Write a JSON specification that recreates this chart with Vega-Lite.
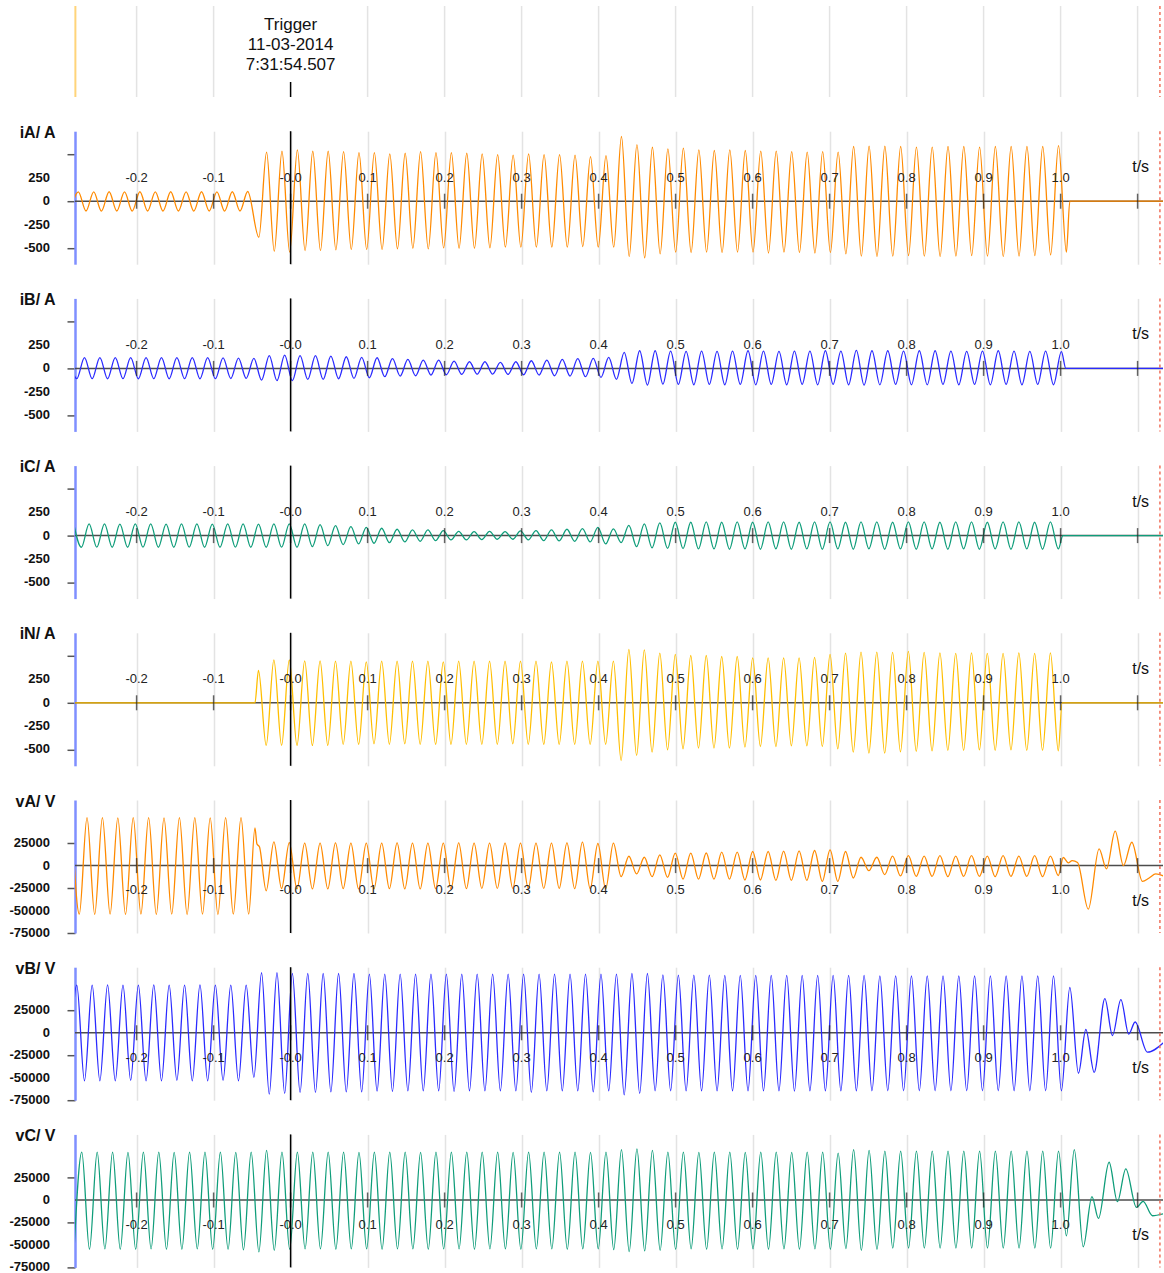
{
"$schema": "https://vega.github.io/schema/vega-lite/v6.json",
"background": "white",
"padding": {"left": 9, "top": 5, "right": 0, "bottom": 0},
"spacing": 34.2,
"bounds": "flush",
"config": {
 "view": {"stroke": null},
 "font": "Liberation Sans",
 "axisY": {"domainColor": "#7f8fff", "domainWidth": 2.5, "tickColor": "#555555", "tickSize": 8, "tickWidth": 1.5, "labels": false, "gridColor": "#e3e3e3", "gridWidth": 1.5, "titleFont": "Liberation Sans", "titleFontSize": 16, "titleFontWeight": "bold", "titleColor": "#111111", "titleAngle": 0, "titleAlign": "right", "titleBaseline": "middle", "titleX": -20, "titleY": 1},
 "axisX": {"gridColor": "#e3e3e3", "gridWidth": 1.5}
},
"datasets": {
 "ticks": [{"t":-0.2,"lab":"-0.2"},{"t":-0.1,"lab":"-0.1"},{"t":0,"lab":"-0.0"},{"t":0.1,"lab":"0.1"},{"t":0.2,"lab":"0.2"},{"t":0.3,"lab":"0.3"},{"t":0.4,"lab":"0.4"},{"t":0.5,"lab":"0.5"},{"t":0.6,"lab":"0.6"},{"t":0.7,"lab":"0.7"},{"t":0.8,"lab":"0.8"},{"t":0.9,"lab":"0.9"},{"t":1.0,"lab":"1.0"},{"t":1.1,"lab":""}],
 "ylabI": [{"v":250,"lab":"250"},{"v":0,"lab":"0"},{"v":-250,"lab":"-250"},{"v":-500,"lab":"-500"}],
 "ylabV": [{"v":25000,"lab":"25000"},{"v":0,"lab":"0"},{"v":-25000,"lab":"-25000"},{"v":-50000,"lab":"-50000"},{"v":-75000,"lab":"-75000"}],
 "iA": [{"t":-0.2857,"v":-105},{"t":-0.2757,"v":100},{"t":-0.2657,"v":-105},{"t":-0.2557,"v":100},{"t":-0.2457,"v":-106},{"t":-0.2357,"v":101},{"t":-0.2257,"v":-105},{"t":-0.2157,"v":100},{"t":-0.2057,"v":-106},{"t":-0.1957,"v":101},{"t":-0.1857,"v":-105},{"t":-0.1757,"v":100},{"t":-0.1657,"v":-106},{"t":-0.1557,"v":101},{"t":-0.1457,"v":-105},{"t":-0.1357,"v":100},{"t":-0.1257,"v":-106},{"t":-0.1157,"v":101},{"t":-0.1057,"v":-105},{"t":-0.0957,"v":100},{"t":-0.0857,"v":-106},{"t":-0.0757,"v":101},{"t":-0.0657,"v":-105},{"t":-0.0557,"v":104},
{"t":-0.0412,"v":-386},{"t":-0.0312,"v":525},{"t":-0.0212,"v":-536},{"t":-0.0112,"v":535},{"t":-0.0012,"v":-546},{"t":0.0088,"v":550},{"t":0.0188,"v":-529},{"t":0.0288,"v":535},{"t":0.0388,"v":-529},{"t":0.0488,"v":535},{"t":0.0588,"v":-521},{"t":0.0688,"v":532},{"t":0.0788,"v":-518},{"t":0.0888,"v":521},{"t":0.0988,"v":-518},{"t":0.1088,"v":521},{"t":0.1188,"v":-518},{"t":0.1288,"v":507},{"t":0.1388,"v":-511},{"t":0.1488,"v":514},{"t":0.1588,"v":-504},{"t":0.1688,"v":532},{"t":0.1788,"v":-511},{"t":0.1888,"v":521},{"t":0.1988,"v":-500},{"t":0.2088,"v":521},{"t":0.2188,"v":-504},{"t":0.2288,"v":514},{"t":0.2388,"v":-504},{"t":0.2488,"v":507},{"t":0.25885,"v":-500},{"t":0.2689,"v":500},{"t":0.27895,"v":-493},{"t":0.289,"v":493},{"t":0.29905,"v":-493},{"t":0.3091,"v":507},{"t":0.31915,"v":-493},{"t":0.3292,"v":500},{"t":0.33925,"v":-493},{"t":0.3493,"v":500},{"t":0.35935,"v":-493},{"t":0.3694,"v":493},{"t":0.37945,"v":-486},{"t":0.3895,"v":478},{"t":0.39955,"v":-493},{"t":0.4096,"v":489},{"t":0.41965,"v":-493},{"t":0.4297,"v":693},{"t":0.43975,"v":-593},{"t":0.4498,"v":607},{"t":0.45985,"v":-607},{"t":0.4699,"v":578},{"t":0.47995,"v":-564},{"t":0.49,"v":561},{"t":0.50005,"v":-546},{"t":0.5101,"v":568},{"t":0.52015,"v":-550},{"t":0.5302,"v":550},{"t":0.54025,"v":-546},{"t":0.5503,"v":543},{"t":0.56035,"v":-550},{"t":0.5704,"v":550},{"t":0.58045,"v":-546},{"t":0.5905,"v":543},{"t":0.60055,"v":-546},{"t":0.6106,"v":536},{"t":0.62065,"v":-555},{"t":0.6307,"v":536},{"t":0.64075,"v":-546},{"t":0.6508,"v":532},{"t":0.66085,"v":-550},{"t":0.6709,"v":525},{"t":0.68095,"v":-555},{"t":0.691,"v":532},{"t":0.70105,"v":-550},{"t":0.7111,"v":525},{"t":0.72115,"v":-564},{"t":0.7312,"v":586},{"t":0.74125,"v":-589},{"t":0.7513,"v":589},{"t":0.76155,"v":-593},{"t":0.7718,"v":589},{"t":0.78205,"v":-589},{"t":0.7923,"v":586},{"t":0.80255,"v":-582},{"t":0.8128,"v":579},{"t":0.82305,"v":-589},{"t":0.8333,"v":579},{"t":0.84355,"v":-593},{"t":0.8538,"v":586},{"t":0.86405,"v":-589},{"t":0.8743,"v":586},{"t":0.88455,"v":-582},{"t":0.8948,"v":579},{"t":0.90505,"v":-589},{"t":0.9153,"v":586},{"t":0.92555,"v":-593},{"t":0.9358,"v":586},{"t":0.94605,"v":-589},{"t":0.9563,"v":586},{"t":0.96655,"v":-582},{"t":0.9768,"v":586},{"t":0.98705,"v":-575},{"t":0.9973,"v":596},{"t":1.00755,"v":-546},{"t":1.012,"v":0},{"t":1.133,"v":0}],
 "iB": [{"t":-0.2877,"v":115},{"t":-0.2777,"v":-110},{"t":-0.2677,"v":116},{"t":-0.2577,"v":-110},{"t":-0.2477,"v":116},{"t":-0.2377,"v":-111},{"t":-0.2277,"v":115},{"t":-0.2177,"v":-110},{"t":-0.2077,"v":116},{"t":-0.1977,"v":-111},{"t":-0.1877,"v":115},{"t":-0.1777,"v":-110},{"t":-0.1677,"v":116},{"t":-0.1577,"v":-111},{"t":-0.1477,"v":115},{"t":-0.1377,"v":-110},{"t":-0.1277,"v":116},{"t":-0.1177,"v":-111},{"t":-0.1077,"v":115},{"t":-0.0977,"v":-110},{"t":-0.0877,"v":112},{"t":-0.0777,"v":-108},{"t":-0.0677,"v":110},{"t":-0.0577,"v":-107},{"t":-0.0477,"v":107},{"t":-0.0377,"v":-125},{"t":-0.0277,"v":136},{"t":-0.0177,"v":-132},{"t":-0.0077,"v":143},{"t":0.0023,"v":-132},{"t":0.0123,"v":136},{"t":0.0223,"v":-118},{"t":0.0323,"v":136},{"t":0.0423,"v":-118},{"t":0.0523,"v":132},{"t":0.0623,"v":-111},{"t":0.0723,"v":125},{"t":0.0823,"v":-107},{"t":0.0923,"v":118},{"t":0.1023,"v":-100},{"t":0.1123,"v":114},{"t":0.1223,"v":-89},{"t":0.1323,"v":104},{"t":0.1423,"v":-82},{"t":0.1523,"v":96},{"t":0.1623,"v":-79},{"t":0.1723,"v":89},{"t":0.1823,"v":-71},{"t":0.1923,"v":89},{"t":0.2023,"v":-68},{"t":0.2123,"v":79},{"t":0.2223,"v":-64},{"t":0.2323,"v":71},{"t":0.2423,"v":-61},{"t":0.25235,"v":71},{"t":0.2624,"v":-61},{"t":0.27245,"v":64},{"t":0.2825,"v":-64},{"t":0.29255,"v":71},{"t":0.3026,"v":-68},{"t":0.31265,"v":82},{"t":0.3227,"v":-71},{"t":0.33275,"v":89},{"t":0.3428,"v":-79},{"t":0.35285,"v":96},{"t":0.3629,"v":-82},{"t":0.37295,"v":104},{"t":0.383,"v":-89},{"t":0.39305,"v":107},{"t":0.4031,"v":-96},{"t":0.41315,"v":118},{"t":0.4232,"v":-118},{"t":0.43325,"v":171},{"t":0.4433,"v":-161},{"t":0.45335,"v":189},{"t":0.4634,"v":-179},{"t":0.47345,"v":189},{"t":0.4835,"v":-168},{"t":0.49355,"v":186},{"t":0.5036,"v":-171},{"t":0.51365,"v":182},{"t":0.5237,"v":-175},{"t":0.53375,"v":186},{"t":0.5438,"v":-171},{"t":0.55385,"v":182},{"t":0.5639,"v":-175},{"t":0.57395,"v":186},{"t":0.584,"v":-171},{"t":0.59405,"v":189},{"t":0.6041,"v":-175},{"t":0.61415,"v":186},{"t":0.6242,"v":-171},{"t":0.63425,"v":182},{"t":0.6443,"v":-175},{"t":0.65435,"v":186},{"t":0.6644,"v":-171},{"t":0.67445,"v":186},{"t":0.6845,"v":-175},{"t":0.69455,"v":189},{"t":0.7046,"v":-171},{"t":0.71465,"v":186},{"t":0.7247,"v":-175},{"t":0.73475,"v":193},{"t":0.7448,"v":-179},{"t":0.75505,"v":189},{"t":0.7653,"v":-175},{"t":0.77555,"v":189},{"t":0.7858,"v":-171},{"t":0.79605,"v":186},{"t":0.8063,"v":-175},{"t":0.81655,"v":189},{"t":0.8268,"v":-175},{"t":0.83705,"v":189},{"t":0.8473,"v":-171},{"t":0.85755,"v":186},{"t":0.8678,"v":-175},{"t":0.87805,"v":182},{"t":0.8883,"v":-171},{"t":0.89855,"v":186},{"t":0.9088,"v":-175},{"t":0.91905,"v":189},{"t":0.9293,"v":-171},{"t":0.93955,"v":186},{"t":0.9498,"v":-175},{"t":0.96005,"v":182},{"t":0.9703,"v":-171},{"t":0.98055,"v":186},{"t":0.9908,"v":-175},{"t":1.00105,"v":179},{"t":1.0068,"v":0},{"t":1.133,"v":0}],
 "iC": [{"t":-0.2817,"v":125},{"t":-0.2717,"v":-125},{"t":-0.2617,"v":125},{"t":-0.2517,"v":-124},{"t":-0.2417,"v":125},{"t":-0.2317,"v":-125},{"t":-0.2217,"v":124},{"t":-0.2117,"v":-125},{"t":-0.2017,"v":125},{"t":-0.1917,"v":-124},{"t":-0.1817,"v":125},{"t":-0.1717,"v":-125},{"t":-0.1617,"v":124},{"t":-0.1517,"v":-125},{"t":-0.1417,"v":125},{"t":-0.1317,"v":-124},{"t":-0.1217,"v":125},{"t":-0.1117,"v":-125},{"t":-0.1017,"v":124},{"t":-0.0917,"v":-125},{"t":-0.0817,"v":125},{"t":-0.0717,"v":-124},{"t":-0.0617,"v":125},{"t":-0.0517,"v":-125},{"t":-0.0417,"v":124},{"t":-0.0317,"v":-125},{"t":-0.0217,"v":125},{"t":-0.0117,"v":-124},{"t":-0.0017,"v":125},{"t":0.0083,"v":-125},{"t":0.0183,"v":125},{"t":0.0283,"v":-118},{"t":0.0383,"v":118},{"t":0.0483,"v":-107},{"t":0.0583,"v":107},{"t":0.0683,"v":-96},{"t":0.0783,"v":96},{"t":0.0883,"v":-89},{"t":0.0983,"v":89},{"t":0.1083,"v":-82},{"t":0.1183,"v":79},{"t":0.1283,"v":-75},{"t":0.1383,"v":68},{"t":0.1483,"v":-68},{"t":0.1583,"v":61},{"t":0.1683,"v":-61},{"t":0.1783,"v":61},{"t":0.1883,"v":-54},{"t":0.1983,"v":54},{"t":0.2083,"v":-46},{"t":0.2183,"v":46},{"t":0.2283,"v":-46},{"t":0.2383,"v":43},{"t":0.24835,"v":-43},{"t":0.2584,"v":46},{"t":0.26845,"v":-39},{"t":0.2785,"v":43},{"t":0.28855,"v":-39},{"t":0.2986,"v":50},{"t":0.30865,"v":-46},{"t":0.3187,"v":54},{"t":0.32875,"v":-54},{"t":0.3388,"v":61},{"t":0.34885,"v":-57},{"t":0.3589,"v":68},{"t":0.36895,"v":-61},{"t":0.379,"v":75},{"t":0.38905,"v":-68},{"t":0.3991,"v":89},{"t":0.40915,"v":-89},{"t":0.4192,"v":71},{"t":0.42925,"v":-75},{"t":0.4393,"v":110},{"t":0.44935,"v":-118},{"t":0.4594,"v":125},{"t":0.46945,"v":-132},{"t":0.4795,"v":136},{"t":0.48955,"v":-136},{"t":0.4996,"v":143},{"t":0.50965,"v":-139},{"t":0.5197,"v":143},{"t":0.52975,"v":-143},{"t":0.5398,"v":146},{"t":0.54985,"v":-143},{"t":0.5599,"v":143},{"t":0.56995,"v":-146},{"t":0.58,"v":146},{"t":0.59005,"v":-143},{"t":0.6001,"v":143},{"t":0.61015,"v":-146},{"t":0.6202,"v":146},{"t":0.63025,"v":-143},{"t":0.6403,"v":146},{"t":0.65035,"v":-146},{"t":0.6604,"v":143},{"t":0.67045,"v":-143},{"t":0.6805,"v":146},{"t":0.69055,"v":-146},{"t":0.7006,"v":146},{"t":0.71065,"v":-143},{"t":0.7207,"v":143},{"t":0.73075,"v":-146},{"t":0.7408,"v":146},{"t":0.75105,"v":-143},{"t":0.7613,"v":146},{"t":0.77155,"v":-146},{"t":0.7818,"v":143},{"t":0.79205,"v":-143},{"t":0.8023,"v":146},{"t":0.81255,"v":-146},{"t":0.8228,"v":146},{"t":0.83305,"v":-143},{"t":0.8433,"v":143},{"t":0.85355,"v":-146},{"t":0.8638,"v":146},{"t":0.87405,"v":-143},{"t":0.8843,"v":146},{"t":0.89455,"v":-146},{"t":0.9048,"v":143},{"t":0.91505,"v":-143},{"t":0.9253,"v":146},{"t":0.93555,"v":-146},{"t":0.9458,"v":146},{"t":0.95605,"v":-143},{"t":0.9663,"v":143},{"t":0.97655,"v":-146},{"t":0.9868,"v":146},{"t":0.99705,"v":-143},{"t":1.003,"v":0},{"t":1.133,"v":0}],
 "iN": [{"t":-0.285,"v":0},{"t":-0.0463,"v":0},{"t":-0.0417,"v":346},{"t":-0.0317,"v":-457},{"t":-0.0217,"v":460},{"t":-0.0117,"v":-457},{"t":-0.0017,"v":460},{"t":0.0083,"v":-457},{"t":0.0183,"v":450},{"t":0.0283,"v":-457},{"t":0.0383,"v":450},{"t":0.0483,"v":-457},{"t":0.0583,"v":446},{"t":0.0683,"v":-446},{"t":0.0783,"v":446},{"t":0.0883,"v":-446},{"t":0.0983,"v":439},{"t":0.1083,"v":-439},{"t":0.1183,"v":446},{"t":0.1283,"v":-446},{"t":0.1383,"v":446},{"t":0.1483,"v":-439},{"t":0.1583,"v":446},{"t":0.1683,"v":-446},{"t":0.1783,"v":446},{"t":0.1883,"v":-446},{"t":0.1983,"v":439},{"t":0.2083,"v":-446},{"t":0.2183,"v":446},{"t":0.2283,"v":-446},{"t":0.2383,"v":446},{"t":0.24835,"v":-446},{"t":0.2584,"v":446},{"t":0.26845,"v":-446},{"t":0.2785,"v":446},{"t":0.28855,"v":-439},{"t":0.2986,"v":446},{"t":0.30865,"v":-446},{"t":0.3187,"v":446},{"t":0.32875,"v":-446},{"t":0.3388,"v":439},{"t":0.34885,"v":-446},{"t":0.3589,"v":446},{"t":0.36895,"v":-446},{"t":0.379,"v":446},{"t":0.38905,"v":-446},{"t":0.3991,"v":446},{"t":0.40915,"v":-446},{"t":0.4192,"v":446},{"t":0.42925,"v":-618},{"t":0.4393,"v":571},{"t":0.44935,"v":-564},{"t":0.4594,"v":568},{"t":0.46945,"v":-528},{"t":0.4795,"v":532},{"t":0.48955,"v":-503},{"t":0.4996,"v":518},{"t":0.50965,"v":-493},{"t":0.5197,"v":507},{"t":0.52975,"v":-486},{"t":0.5398,"v":507},{"t":0.54985,"v":-486},{"t":0.5599,"v":496},{"t":0.56995,"v":-486},{"t":0.58,"v":496},{"t":0.59005,"v":-475},{"t":0.6001,"v":482},{"t":0.61015,"v":-468},{"t":0.6202,"v":482},{"t":0.63025,"v":-468},{"t":0.6403,"v":482},{"t":0.65035,"v":-461},{"t":0.6604,"v":482},{"t":0.67045,"v":-461},{"t":0.6805,"v":486},{"t":0.69055,"v":-468},{"t":0.7006,"v":518},{"t":0.71065,"v":-493},{"t":0.7207,"v":532},{"t":0.73075,"v":-528},{"t":0.7408,"v":543},{"t":0.75105,"v":-539},{"t":0.7613,"v":543},{"t":0.77155,"v":-539},{"t":0.7818,"v":540},{"t":0.79205,"v":-525},{"t":0.8023,"v":550},{"t":0.81255,"v":-520},{"t":0.8228,"v":540},{"t":0.83305,"v":-515},{"t":0.8433,"v":535},{"t":0.85355,"v":-510},{"t":0.8638,"v":530},{"t":0.87405,"v":-510},{"t":0.8843,"v":535},{"t":0.89455,"v":-505},{"t":0.9048,"v":530},{"t":0.91505,"v":-510},{"t":0.9253,"v":530},{"t":0.93555,"v":-505},{"t":0.9458,"v":535},{"t":0.95605,"v":-510},{"t":0.9663,"v":530},{"t":0.97655,"v":-510},{"t":0.9868,"v":535},{"t":0.99705,"v":-515},{"t":1.002,"v":0},{"t":1.133,"v":0}],
 "vA": [{"t":-0.2844,"v":53000},{"t":-0.2744,"v":-54000},{"t":-0.2644,"v":53400},{"t":-0.2544,"v":-54400},{"t":-0.2444,"v":53400},{"t":-0.2344,"v":-54000},{"t":-0.2244,"v":53000},{"t":-0.2144,"v":-54400},{"t":-0.2044,"v":53400},{"t":-0.1944,"v":-54000},{"t":-0.1844,"v":53400},{"t":-0.1744,"v":-54400},{"t":-0.1644,"v":53000},{"t":-0.1544,"v":-54000},{"t":-0.1444,"v":53400},{"t":-0.1344,"v":-54400},{"t":-0.1244,"v":53400},{"t":-0.1144,"v":-54000},{"t":-0.1044,"v":53000},{"t":-0.0944,"v":-54400},{"t":-0.0844,"v":53400},{"t":-0.0744,"v":-54000},{"t":-0.0644,"v":53400},{"t":-0.0544,"v":-54000},{"t":-0.0463,"v":42000},{"t":-0.0437,"v":24000},{"t":-0.0405,"v":21000},{"t":-0.0317,"v":-28000},{"t":-0.0217,"v":26500},{"t":-0.0117,"v":-25500},{"t":-0.0017,"v":25500},{"t":0.0083,"v":-26000},{"t":0.0183,"v":25000},{"t":0.0283,"v":-26000},{"t":0.0383,"v":25000},{"t":0.0483,"v":-26000},{"t":0.0583,"v":25300},{"t":0.0683,"v":-25700},{"t":0.0783,"v":25000},{"t":0.0883,"v":-26000},{"t":0.0983,"v":25000},{"t":0.1083,"v":-26000},{"t":0.1183,"v":25000},{"t":0.1283,"v":-25700},{"t":0.1383,"v":25300},{"t":0.1483,"v":-26000},{"t":0.1583,"v":25000},{"t":0.1683,"v":-26000},{"t":0.1783,"v":25000},{"t":0.1883,"v":-25700},{"t":0.1983,"v":25000},{"t":0.2083,"v":-26000},{"t":0.2183,"v":25300},{"t":0.2283,"v":-25700},{"t":0.2383,"v":25000},{"t":0.24835,"v":-25400},{"t":0.2584,"v":25000},{"t":0.26845,"v":-25400},{"t":0.2785,"v":25000},{"t":0.28855,"v":-25400},{"t":0.2986,"v":25000},{"t":0.30865,"v":-25400},{"t":0.3187,"v":25000},{"t":0.32875,"v":-25400},{"t":0.3388,"v":25000},{"t":0.34885,"v":-25400},{"t":0.3589,"v":25300},{"t":0.36895,"v":-25700},{"t":0.379,"v":26100},{"t":0.38905,"v":-25700},{"t":0.3991,"v":24600},{"t":0.40915,"v":-26000},{"t":0.4192,"v":25000},{"t":0.42925,"v":-12300},{"t":0.4393,"v":10400},{"t":0.44935,"v":-9300},{"t":0.4594,"v":9300},{"t":0.46945,"v":-12300},{"t":0.4795,"v":11900},{"t":0.48955,"v":-13000},{"t":0.4996,"v":13800},{"t":0.50965,"v":-15000},{"t":0.5197,"v":13800},{"t":0.52975,"v":-15000},{"t":0.5398,"v":14000},{"t":0.54985,"v":-15000},{"t":0.5599,"v":15000},{"t":0.56995,"v":-15000},{"t":0.58,"v":15000},{"t":0.59005,"v":-16000},{"t":0.6001,"v":15700},{"t":0.61015,"v":-16000},{"t":0.6202,"v":15700},{"t":0.63025,"v":-16400},{"t":0.6403,"v":16000},{"t":0.65035,"v":-16400},{"t":0.6604,"v":16400},{"t":0.67045,"v":-16400},{"t":0.6805,"v":16800},{"t":0.69055,"v":-17500},{"t":0.7006,"v":17500},{"t":0.71065,"v":-17500},{"t":0.7207,"v":15700},{"t":0.73075,"v":-13800},{"t":0.7408,"v":9300},{"t":0.75105,"v":-5600},{"t":0.7613,"v":9300},{"t":0.77155,"v":-10000},{"t":0.7818,"v":10500},{"t":0.79205,"v":-11500},{"t":0.8023,"v":11000},{"t":0.81255,"v":-12000},{"t":0.8228,"v":10500},{"t":0.83305,"v":-12000},{"t":0.8433,"v":11000},{"t":0.85355,"v":-12300},{"t":0.8638,"v":10500},{"t":0.87405,"v":-12000},{"t":0.8843,"v":11000},{"t":0.89455,"v":-12000},{"t":0.9048,"v":10500},{"t":0.91505,"v":-12300},{"t":0.9253,"v":11000},{"t":0.93555,"v":-12000},{"t":0.9458,"v":10500},{"t":0.95605,"v":-12000},{"t":0.9663,"v":11000},{"t":0.97655,"v":-12300},{"t":0.9868,"v":10500},{"t":0.99705,"v":-11000},{"t":1.0035,"v":9000},{"t":1.01,"v":3000},{"t":1.015,"v":5500},{"t":1.022,"v":3500},{"t":1.036,"v":-48500},{"t":1.05,"v":18600},{"t":1.0596,"v":-3700},{"t":1.0709,"v":38400},{"t":1.0816,"v":0},{"t":1.0925,"v":26000},{"t":1.1063,"v":-17500},{"t":1.115,"v":-13800},{"t":1.1236,"v":-9300},{"t":1.135,"v":-12000}],
 "vB": [{"t":-0.2877,"v":-53400},{"t":-0.2777,"v":53000},{"t":-0.2677,"v":-53400},{"t":-0.2577,"v":53000},{"t":-0.2477,"v":-53400},{"t":-0.2377,"v":53400},{"t":-0.2277,"v":-53400},{"t":-0.2177,"v":53000},{"t":-0.2077,"v":-53000},{"t":-0.1977,"v":53000},{"t":-0.1877,"v":-53400},{"t":-0.1777,"v":53400},{"t":-0.1677,"v":-53400},{"t":-0.1577,"v":53000},{"t":-0.1477,"v":-53000},{"t":-0.1377,"v":53000},{"t":-0.1277,"v":-53400},{"t":-0.1177,"v":53400},{"t":-0.1077,"v":-53400},{"t":-0.0977,"v":53000},{"t":-0.0877,"v":-53000},{"t":-0.0777,"v":53000},{"t":-0.0677,"v":-53400},{"t":-0.0577,"v":53000},{"t":-0.0477,"v":-49600},{"t":-0.0377,"v":66800},{"t":-0.0277,"v":-68300},{"t":-0.0177,"v":66800},{"t":-0.0077,"v":-67500},{"t":0.0023,"v":66000},{"t":0.0123,"v":-66400},{"t":0.0223,"v":66000},{"t":0.0323,"v":-66400},{"t":0.0423,"v":66000},{"t":0.0523,"v":-65700},{"t":0.0623,"v":66000},{"t":0.0723,"v":-65700},{"t":0.0823,"v":66000},{"t":0.0923,"v":-65700},{"t":0.1023,"v":65300},{"t":0.1123,"v":-64900},{"t":0.1223,"v":65300},{"t":0.1323,"v":-65300},{"t":0.1423,"v":65300},{"t":0.1523,"v":-64500},{"t":0.1623,"v":65300},{"t":0.1723,"v":-64500},{"t":0.1823,"v":65300},{"t":0.1923,"v":-64500},{"t":0.2023,"v":65300},{"t":0.2123,"v":-65300},{"t":0.2223,"v":65300},{"t":0.2323,"v":-64500},{"t":0.2423,"v":65300},{"t":0.25235,"v":-64500},{"t":0.2624,"v":65300},{"t":0.27245,"v":-64500},{"t":0.2825,"v":65300},{"t":0.29255,"v":-64500},{"t":0.3026,"v":65300},{"t":0.31265,"v":-66400},{"t":0.3227,"v":65300},{"t":0.33275,"v":-64500},{"t":0.3428,"v":65300},{"t":0.35285,"v":-64500},{"t":0.3629,"v":65300},{"t":0.37295,"v":-64500},{"t":0.383,"v":65300},{"t":0.39305,"v":-65700},{"t":0.4031,"v":65300},{"t":0.41315,"v":-64500},{"t":0.4232,"v":65300},{"t":0.43325,"v":-69000},{"t":0.4433,"v":66000},{"t":0.45335,"v":-67500},{"t":0.4634,"v":66000},{"t":0.47345,"v":-64500},{"t":0.4835,"v":64500},{"t":0.49355,"v":-64500},{"t":0.5036,"v":64200},{"t":0.51365,"v":-64500},{"t":0.5237,"v":64200},{"t":0.53375,"v":-64500},{"t":0.5438,"v":64200},{"t":0.55385,"v":-64500},{"t":0.5639,"v":63800},{"t":0.57395,"v":-64500},{"t":0.584,"v":63800},{"t":0.59405,"v":-64500},{"t":0.6041,"v":63800},{"t":0.61415,"v":-64500},{"t":0.6242,"v":63800},{"t":0.63425,"v":-64500},{"t":0.6443,"v":63800},{"t":0.65435,"v":-64900},{"t":0.6644,"v":63800},{"t":0.67445,"v":-64500},{"t":0.6845,"v":63800},{"t":0.69455,"v":-64500},{"t":0.7046,"v":63800},{"t":0.71465,"v":-64500},{"t":0.7247,"v":63800},{"t":0.73475,"v":-64500},{"t":0.7448,"v":63800},{"t":0.75505,"v":-64500},{"t":0.7653,"v":63400},{"t":0.77555,"v":-64500},{"t":0.7858,"v":63400},{"t":0.79605,"v":-64500},{"t":0.8063,"v":63400},{"t":0.81655,"v":-64500},{"t":0.8268,"v":63400},{"t":0.83705,"v":-64500},{"t":0.8473,"v":63400},{"t":0.85755,"v":-64500},{"t":0.8678,"v":63400},{"t":0.87805,"v":-64500},{"t":0.8883,"v":63400},{"t":0.89855,"v":-64500},{"t":0.9088,"v":63400},{"t":0.91905,"v":-64500},{"t":0.9293,"v":63400},{"t":0.93955,"v":-64500},{"t":0.9498,"v":63400},{"t":0.96005,"v":-64500},{"t":0.9703,"v":63400},{"t":0.98055,"v":-64500},{"t":0.9908,"v":63400},{"t":1.00105,"v":-64500},{"t":1.012,"v":50400},{"t":1.0232,"v":-45000},{"t":1.0328,"v":3700},{"t":1.0436,"v":-44000},{"t":1.0575,"v":38000},{"t":1.0674,"v":-3000},{"t":1.0783,"v":37000},{"t":1.0885,"v":-1500},{"t":1.0968,"v":12000},{"t":1.1128,"v":-21600},{"t":1.135,"v":-10000}],
 "vC": [{"t":-0.2812,"v":-54800},{"t":-0.2712,"v":53300},{"t":-0.2612,"v":-54800},{"t":-0.2512,"v":53300},{"t":-0.2412,"v":-54400},{"t":-0.2312,"v":53300},{"t":-0.2212,"v":-54800},{"t":-0.2112,"v":53000},{"t":-0.2012,"v":-54800},{"t":-0.1912,"v":53300},{"t":-0.1812,"v":-54400},{"t":-0.1712,"v":53300},{"t":-0.1612,"v":-54800},{"t":-0.1512,"v":53000},{"t":-0.1412,"v":-54800},{"t":-0.1312,"v":53300},{"t":-0.1212,"v":-54400},{"t":-0.1112,"v":53300},{"t":-0.1012,"v":-54800},{"t":-0.0912,"v":53300},{"t":-0.0812,"v":-54800},{"t":-0.0712,"v":53000},{"t":-0.0612,"v":-55500},{"t":-0.0512,"v":53300},{"t":-0.0412,"v":-57800},{"t":-0.0312,"v":55200},{"t":-0.0212,"v":-56000},{"t":-0.0112,"v":53300},{"t":-0.0012,"v":-54800},{"t":0.0088,"v":53300},{"t":0.0188,"v":-54400},{"t":0.0288,"v":53300},{"t":0.0388,"v":-54400},{"t":0.0488,"v":53300},{"t":0.0588,"v":-54800},{"t":0.0688,"v":53300},{"t":0.0788,"v":-54400},{"t":0.0888,"v":53000},{"t":0.0988,"v":-54400},{"t":0.1088,"v":53300},{"t":0.1188,"v":-54800},{"t":0.1288,"v":53300},{"t":0.1388,"v":-54400},{"t":0.1488,"v":53300},{"t":0.1588,"v":-54400},{"t":0.1688,"v":53000},{"t":0.1788,"v":-54800},{"t":0.1888,"v":53300},{"t":0.1988,"v":-54400},{"t":0.2088,"v":53300},{"t":0.2188,"v":-54400},{"t":0.2288,"v":53300},{"t":0.2388,"v":-54800},{"t":0.2488,"v":53300},{"t":0.25885,"v":-54400},{"t":0.2689,"v":53300},{"t":0.27895,"v":-54400},{"t":0.289,"v":53000},{"t":0.29905,"v":-54800},{"t":0.3091,"v":53300},{"t":0.31915,"v":-54400},{"t":0.3292,"v":53300},{"t":0.33925,"v":-54400},{"t":0.3493,"v":53300},{"t":0.35935,"v":-54800},{"t":0.3694,"v":53300},{"t":0.37945,"v":-54400},{"t":0.3895,"v":53000},{"t":0.39955,"v":-54400},{"t":0.4096,"v":53300},{"t":0.41965,"v":-55200},{"t":0.4297,"v":56000},{"t":0.43975,"v":-57400},{"t":0.4498,"v":57000},{"t":0.45985,"v":-56700},{"t":0.4699,"v":55200},{"t":0.47995,"v":-56000},{"t":0.49,"v":53300},{"t":0.50005,"v":-54800},{"t":0.5101,"v":53300},{"t":0.52015,"v":-54400},{"t":0.5302,"v":53000},{"t":0.54025,"v":-54800},{"t":0.5503,"v":53300},{"t":0.56035,"v":-54400},{"t":0.5704,"v":53300},{"t":0.58045,"v":-54800},{"t":0.5905,"v":53000},{"t":0.60055,"v":-54400},{"t":0.6106,"v":53300},{"t":0.62065,"v":-54800},{"t":0.6307,"v":53300},{"t":0.64075,"v":-54400},{"t":0.6508,"v":53000},{"t":0.66085,"v":-54800},{"t":0.6709,"v":53300},{"t":0.68095,"v":-54400},{"t":0.691,"v":53300},{"t":0.70105,"v":-54800},{"t":0.7111,"v":52200},{"t":0.72115,"v":-54000},{"t":0.7312,"v":56000},{"t":0.74125,"v":-56000},{"t":0.7513,"v":55200},{"t":0.76155,"v":-55000},{"t":0.7718,"v":54500},{"t":0.78205,"v":-53500},{"t":0.7923,"v":54500},{"t":0.80255,"v":-53500},{"t":0.8128,"v":54500},{"t":0.82305,"v":-53500},{"t":0.8333,"v":54500},{"t":0.84355,"v":-53500},{"t":0.8538,"v":54500},{"t":0.86405,"v":-53500},{"t":0.8743,"v":54500},{"t":0.88455,"v":-53500},{"t":0.8948,"v":54500},{"t":0.90505,"v":-53500},{"t":0.9153,"v":54500},{"t":0.92555,"v":-53500},{"t":0.9358,"v":54500},{"t":0.94605,"v":-53500},{"t":0.9563,"v":54500},{"t":0.96655,"v":-53500},{"t":0.9768,"v":54500},{"t":0.98705,"v":-53500},{"t":0.9973,"v":54500},{"t":1.00755,"v":-40000},{"t":1.0178,"v":56000},{"t":1.0294,"v":-52000},{"t":1.0407,"v":3700},{"t":1.0492,"v":-20500},{"t":1.063,"v":42000},{"t":1.0738,"v":-1900},{"t":1.0847,"v":34700},{"t":1.0985,"v":-8200},{"t":1.1072,"v":-1500},{"t":1.1193,"v":-17500},{"t":1.135,"v":-15000}]
},
"vconcat": [
 {"width": 1088, "height": 91,
  "layer": [
   {"data": {"name": "ticks"}, "transform": [{"filter": "datum.t != 0"}], "mark": {"type": "rule", "color": "#e3e3e3", "strokeWidth": 1.5},
    "encoding": {"x": {"field": "t", "type": "quantitative", "scale": {"domain": [-0.28, 1.133], "nice": false, "zero": false}, "axis": null}}},
   {"data": {"values": [{}]}, "mark": {"type": "rule", "color": "#ffd47a", "strokeWidth": 2}, "encoding": {"x": {"datum": -0.2795, "type": "quantitative"}}},
   {"data": {"values": [{}]}, "mark": {"type": "rule", "color": "#f0705a", "strokeWidth": 1.5, "strokeDash": [3, 3]}, "encoding": {"x": {"datum": 1.129, "type": "quantitative"}}},
   {"data": {"values": [{}]}, "mark": {"type": "rule", "color": "#000000", "strokeWidth": 1.5},
    "encoding": {"x": {"datum": 0, "type": "quantitative"}, "y": {"datum": 76, "type": "quantitative", "scale": {"domain": [91, 0], "nice": false, "zero": false}, "axis": null}, "y2": {"datum": 91}}},
   {"data": {"values": [{}]}, "mark": {"type": "text", "fontSize": 17, "font": "Liberation Sans", "color": "#111111", "align": "center", "baseline": "middle", "text": "Trigger"}, "encoding": {"x": {"datum": 0, "type": "quantitative"}, "y": {"datum": 19, "type": "quantitative"}}},
   {"data": {"values": [{}]}, "mark": {"type": "text", "fontSize": 17, "font": "Liberation Sans", "color": "#111111", "align": "center", "baseline": "middle", "text": "11-03-2014"}, "encoding": {"x": {"datum": 0, "type": "quantitative"}, "y": {"datum": 39, "type": "quantitative"}}},
   {"data": {"values": [{}]}, "mark": {"type": "text", "fontSize": 17, "font": "Liberation Sans", "color": "#111111", "align": "center", "baseline": "middle", "text": "7:31:54.507"}, "encoding": {"x": {"datum": 0, "type": "quantitative"}, "y": {"datum": 58.5, "type": "quantitative"}}}
  ]},
 {"width": 1088, "height": 133,
  "layer": [
   {"data": {"values": [{}]}, "mark": {"type": "rule", "color": "#4d4d4d", "strokeWidth": 1.5}, "encoding": {"y": {"datum": 0, "type": "quantitative"}}},
   {"data": {"name": "iA"}, "mark": {"type": "line", "interpolate": "monotone", "clip": true, "color": "#ff8a00", "strokeWidth": 1.3},
    "encoding": {"x": {"field": "t", "type": "quantitative", "scale": {"domain": [-0.28, 1.133], "nice": false, "zero": false}, "axis": {"values": [-0.2,-0.1,0,0.1,0.2,0.3,0.4,0.5,0.6,0.7,0.8,0.9,1,1.1], "grid": true, "labels": false, "ticks": false, "domain": false, "title": null}},
     "y": {"field": "v", "type": "quantitative", "scale": {"domain": [-675, 750], "nice": false, "zero": false}, "axis": {"title": "iA/ A", "values": [750,500,250,0,-250,-500]}}}},
   {"data": {"name": "ylabI"}, "mark": {"type": "text", "fontSize": 13, "fontWeight": "bold", "font": "Liberation Sans", "color": "#111111", "align": "right", "baseline": "middle", "dx": -25}, "encoding": {"x": {"datum": -0.28, "type": "quantitative"}, "y": {"field": "v", "type": "quantitative"}, "text": {"field": "lab"}}},
   {"data": {"name": "ticks"}, "mark": {"type": "tick", "orient": "vertical", "size": 15, "thickness": 1.5, "color": "#222222"}, "encoding": {"x": {"field": "t", "type": "quantitative"}, "y": {"datum": 0, "type": "quantitative"}}},
   {"data": {"name": "ticks"}, "mark": {"type": "text", "fontSize": 13, "font": "Liberation Sans", "color": "#222222", "align": "center", "baseline": "middle"}, "encoding": {"x": {"field": "t", "type": "quantitative"}, "y": {"datum": 250, "type": "quantitative"}, "text": {"field": "lab"}}},
   {"data": {"values": [{}]}, "mark": {"type": "text", "fontSize": 16, "font": "Liberation Sans", "color": "#111111", "align": "center", "baseline": "middle", "text": "t/s"}, "encoding": {"x": {"datum": 1.104, "type": "quantitative"}, "y": {"datum": 364, "type": "quantitative"}}},
   {"data": {"values": [{}]}, "mark": {"type": "rule", "color": "#000000", "strokeWidth": 1.5}, "encoding": {"x": {"datum": 0, "type": "quantitative"}}},
   {"data": {"values": [{}]}, "mark": {"type": "rule", "color": "#f0705a", "strokeWidth": 1.5, "strokeDash": [3, 3]}, "encoding": {"x": {"datum": 1.129, "type": "quantitative"}}}
  ]},
 {"width": 1088, "height": 133,
  "layer": [
   {"data": {"values": [{}]}, "mark": {"type": "rule", "color": "#4d4d4d", "strokeWidth": 1.5}, "encoding": {"y": {"datum": 0, "type": "quantitative"}}},
   {"data": {"name": "iB"}, "mark": {"type": "line", "interpolate": "monotone", "clip": true, "color": "#2a2aff", "strokeWidth": 1.3},
    "encoding": {"x": {"field": "t", "type": "quantitative", "scale": {"domain": [-0.28, 1.133], "nice": false, "zero": false}, "axis": {"values": [-0.2,-0.1,0,0.1,0.2,0.3,0.4,0.5,0.6,0.7,0.8,0.9,1,1.1], "grid": true, "labels": false, "ticks": false, "domain": false, "title": null}},
     "y": {"field": "v", "type": "quantitative", "scale": {"domain": [-675, 750], "nice": false, "zero": false}, "axis": {"title": "iB/ A", "values": [750,500,250,0,-250,-500]}}}},
   {"data": {"name": "ylabI"}, "mark": {"type": "text", "fontSize": 13, "fontWeight": "bold", "font": "Liberation Sans", "color": "#111111", "align": "right", "baseline": "middle", "dx": -25}, "encoding": {"x": {"datum": -0.28, "type": "quantitative"}, "y": {"field": "v", "type": "quantitative"}, "text": {"field": "lab"}}},
   {"data": {"name": "ticks"}, "mark": {"type": "tick", "orient": "vertical", "size": 15, "thickness": 1.5, "color": "#222222"}, "encoding": {"x": {"field": "t", "type": "quantitative"}, "y": {"datum": 0, "type": "quantitative"}}},
   {"data": {"name": "ticks"}, "mark": {"type": "text", "fontSize": 13, "font": "Liberation Sans", "color": "#222222", "align": "center", "baseline": "middle"}, "encoding": {"x": {"field": "t", "type": "quantitative"}, "y": {"datum": 250, "type": "quantitative"}, "text": {"field": "lab"}}},
   {"data": {"values": [{}]}, "mark": {"type": "text", "fontSize": 16, "font": "Liberation Sans", "color": "#111111", "align": "center", "baseline": "middle", "text": "t/s"}, "encoding": {"x": {"datum": 1.104, "type": "quantitative"}, "y": {"datum": 364, "type": "quantitative"}}},
   {"data": {"values": [{}]}, "mark": {"type": "rule", "color": "#000000", "strokeWidth": 1.5}, "encoding": {"x": {"datum": 0, "type": "quantitative"}}},
   {"data": {"values": [{}]}, "mark": {"type": "rule", "color": "#f0705a", "strokeWidth": 1.5, "strokeDash": [3, 3]}, "encoding": {"x": {"datum": 1.129, "type": "quantitative"}}}
  ]},
 {"width": 1088, "height": 133,
  "layer": [
   {"data": {"values": [{}]}, "mark": {"type": "rule", "color": "#4d4d4d", "strokeWidth": 1.5}, "encoding": {"y": {"datum": 0, "type": "quantitative"}}},
   {"data": {"name": "iC"}, "mark": {"type": "line", "interpolate": "monotone", "clip": true, "color": "#0f9d7a", "strokeWidth": 1.3},
    "encoding": {"x": {"field": "t", "type": "quantitative", "scale": {"domain": [-0.28, 1.133], "nice": false, "zero": false}, "axis": {"values": [-0.2,-0.1,0,0.1,0.2,0.3,0.4,0.5,0.6,0.7,0.8,0.9,1,1.1], "grid": true, "labels": false, "ticks": false, "domain": false, "title": null}},
     "y": {"field": "v", "type": "quantitative", "scale": {"domain": [-675, 750], "nice": false, "zero": false}, "axis": {"title": "iC/ A", "values": [750,500,250,0,-250,-500]}}}},
   {"data": {"name": "ylabI"}, "mark": {"type": "text", "fontSize": 13, "fontWeight": "bold", "font": "Liberation Sans", "color": "#111111", "align": "right", "baseline": "middle", "dx": -25}, "encoding": {"x": {"datum": -0.28, "type": "quantitative"}, "y": {"field": "v", "type": "quantitative"}, "text": {"field": "lab"}}},
   {"data": {"name": "ticks"}, "mark": {"type": "tick", "orient": "vertical", "size": 15, "thickness": 1.5, "color": "#222222"}, "encoding": {"x": {"field": "t", "type": "quantitative"}, "y": {"datum": 0, "type": "quantitative"}}},
   {"data": {"name": "ticks"}, "mark": {"type": "text", "fontSize": 13, "font": "Liberation Sans", "color": "#222222", "align": "center", "baseline": "middle"}, "encoding": {"x": {"field": "t", "type": "quantitative"}, "y": {"datum": 250, "type": "quantitative"}, "text": {"field": "lab"}}},
   {"data": {"values": [{}]}, "mark": {"type": "text", "fontSize": 16, "font": "Liberation Sans", "color": "#111111", "align": "center", "baseline": "middle", "text": "t/s"}, "encoding": {"x": {"datum": 1.104, "type": "quantitative"}, "y": {"datum": 364, "type": "quantitative"}}},
   {"data": {"values": [{}]}, "mark": {"type": "rule", "color": "#000000", "strokeWidth": 1.5}, "encoding": {"x": {"datum": 0, "type": "quantitative"}}},
   {"data": {"values": [{}]}, "mark": {"type": "rule", "color": "#f0705a", "strokeWidth": 1.5, "strokeDash": [3, 3]}, "encoding": {"x": {"datum": 1.129, "type": "quantitative"}}}
  ]},
 {"width": 1088, "height": 133,
  "layer": [
   {"data": {"values": [{}]}, "mark": {"type": "rule", "color": "#4d4d4d", "strokeWidth": 1.5}, "encoding": {"y": {"datum": 0, "type": "quantitative"}}},
   {"data": {"name": "iN"}, "mark": {"type": "line", "interpolate": "monotone", "clip": true, "color": "#ffbe00", "strokeWidth": 1.3},
    "encoding": {"x": {"field": "t", "type": "quantitative", "scale": {"domain": [-0.28, 1.133], "nice": false, "zero": false}, "axis": {"values": [-0.2,-0.1,0,0.1,0.2,0.3,0.4,0.5,0.6,0.7,0.8,0.9,1,1.1], "grid": true, "labels": false, "ticks": false, "domain": false, "title": null}},
     "y": {"field": "v", "type": "quantitative", "scale": {"domain": [-675, 750], "nice": false, "zero": false}, "axis": {"title": "iN/ A", "values": [750,500,250,0,-250,-500]}}}},
   {"data": {"name": "ylabI"}, "mark": {"type": "text", "fontSize": 13, "fontWeight": "bold", "font": "Liberation Sans", "color": "#111111", "align": "right", "baseline": "middle", "dx": -25}, "encoding": {"x": {"datum": -0.28, "type": "quantitative"}, "y": {"field": "v", "type": "quantitative"}, "text": {"field": "lab"}}},
   {"data": {"name": "ticks"}, "mark": {"type": "tick", "orient": "vertical", "size": 15, "thickness": 1.5, "color": "#222222"}, "encoding": {"x": {"field": "t", "type": "quantitative"}, "y": {"datum": 0, "type": "quantitative"}}},
   {"data": {"name": "ticks"}, "mark": {"type": "text", "fontSize": 13, "font": "Liberation Sans", "color": "#222222", "align": "center", "baseline": "middle"}, "encoding": {"x": {"field": "t", "type": "quantitative"}, "y": {"datum": 250, "type": "quantitative"}, "text": {"field": "lab"}}},
   {"data": {"values": [{}]}, "mark": {"type": "text", "fontSize": 16, "font": "Liberation Sans", "color": "#111111", "align": "center", "baseline": "middle", "text": "t/s"}, "encoding": {"x": {"datum": 1.104, "type": "quantitative"}, "y": {"datum": 364, "type": "quantitative"}}},
   {"data": {"values": [{}]}, "mark": {"type": "rule", "color": "#000000", "strokeWidth": 1.5}, "encoding": {"x": {"datum": 0, "type": "quantitative"}}},
   {"data": {"values": [{}]}, "mark": {"type": "rule", "color": "#f0705a", "strokeWidth": 1.5, "strokeDash": [3, 3]}, "encoding": {"x": {"datum": 1.129, "type": "quantitative"}}}
  ]},
 {"width": 1088, "height": 133,
  "layer": [
   {"data": {"values": [{}]}, "mark": {"type": "rule", "color": "#4d4d4d", "strokeWidth": 1.5}, "encoding": {"y": {"datum": 0, "type": "quantitative"}}},
   {"data": {"name": "vA"}, "mark": {"type": "line", "interpolate": "monotone", "clip": true, "color": "#ff8a00", "strokeWidth": 1.3},
    "encoding": {"x": {"field": "t", "type": "quantitative", "scale": {"domain": [-0.28, 1.133], "nice": false, "zero": false}, "axis": {"values": [-0.2,-0.1,0,0.1,0.2,0.3,0.4,0.5,0.6,0.7,0.8,0.9,1,1.1], "grid": true, "labels": false, "ticks": false, "domain": false, "title": null}},
     "y": {"field": "v", "type": "quantitative", "scale": {"domain": [-75000, 73000], "nice": false, "zero": false}, "axis": {"title": "vA/ V", "values": [50000,25000,0,-25000,-50000,-75000]}}}},
   {"data": {"name": "ylabV"}, "mark": {"type": "text", "fontSize": 13, "fontWeight": "bold", "font": "Liberation Sans", "color": "#111111", "align": "right", "baseline": "middle", "dx": -25}, "encoding": {"x": {"datum": -0.28, "type": "quantitative"}, "y": {"field": "v", "type": "quantitative"}, "text": {"field": "lab"}}},
   {"data": {"name": "ticks"}, "mark": {"type": "tick", "orient": "vertical", "size": 15, "thickness": 1.5, "color": "#222222"}, "encoding": {"x": {"field": "t", "type": "quantitative"}, "y": {"datum": 0, "type": "quantitative"}}},
   {"data": {"name": "ticks"}, "mark": {"type": "text", "fontSize": 13, "font": "Liberation Sans", "color": "#222222", "align": "center", "baseline": "middle"}, "encoding": {"x": {"field": "t", "type": "quantitative"}, "y": {"datum": -27500, "type": "quantitative"}, "text": {"field": "lab"}}},
   {"data": {"values": [{}]}, "mark": {"type": "text", "fontSize": 16, "font": "Liberation Sans", "color": "#111111", "align": "center", "baseline": "middle", "text": "t/s"}, "encoding": {"x": {"datum": 1.104, "type": "quantitative"}, "y": {"datum": -39000, "type": "quantitative"}}},
   {"data": {"values": [{}]}, "mark": {"type": "rule", "color": "#000000", "strokeWidth": 1.5}, "encoding": {"x": {"datum": 0, "type": "quantitative"}}},
   {"data": {"values": [{}]}, "mark": {"type": "rule", "color": "#f0705a", "strokeWidth": 1.5, "strokeDash": [3, 3]}, "encoding": {"x": {"datum": 1.129, "type": "quantitative"}}}
  ]},
 {"width": 1088, "height": 133,
  "layer": [
   {"data": {"values": [{}]}, "mark": {"type": "rule", "color": "#4d4d4d", "strokeWidth": 1.5}, "encoding": {"y": {"datum": 0, "type": "quantitative"}}},
   {"data": {"name": "vB"}, "mark": {"type": "line", "interpolate": "monotone", "clip": true, "color": "#2a2aff", "strokeWidth": 1.3},
    "encoding": {"x": {"field": "t", "type": "quantitative", "scale": {"domain": [-0.28, 1.133], "nice": false, "zero": false}, "axis": {"values": [-0.2,-0.1,0,0.1,0.2,0.3,0.4,0.5,0.6,0.7,0.8,0.9,1,1.1], "grid": true, "labels": false, "ticks": false, "domain": false, "title": null}},
     "y": {"field": "v", "type": "quantitative", "scale": {"domain": [-75000, 73000], "nice": false, "zero": false}, "axis": {"title": "vB/ V", "values": [50000,25000,0,-25000,-50000,-75000]}}}},
   {"data": {"name": "ylabV"}, "mark": {"type": "text", "fontSize": 13, "fontWeight": "bold", "font": "Liberation Sans", "color": "#111111", "align": "right", "baseline": "middle", "dx": -25}, "encoding": {"x": {"datum": -0.28, "type": "quantitative"}, "y": {"field": "v", "type": "quantitative"}, "text": {"field": "lab"}}},
   {"data": {"name": "ticks"}, "mark": {"type": "tick", "orient": "vertical", "size": 15, "thickness": 1.5, "color": "#222222"}, "encoding": {"x": {"field": "t", "type": "quantitative"}, "y": {"datum": 0, "type": "quantitative"}}},
   {"data": {"name": "ticks"}, "mark": {"type": "text", "fontSize": 13, "font": "Liberation Sans", "color": "#222222", "align": "center", "baseline": "middle"}, "encoding": {"x": {"field": "t", "type": "quantitative"}, "y": {"datum": -27500, "type": "quantitative"}, "text": {"field": "lab"}}},
   {"data": {"values": [{}]}, "mark": {"type": "text", "fontSize": 16, "font": "Liberation Sans", "color": "#111111", "align": "center", "baseline": "middle", "text": "t/s"}, "encoding": {"x": {"datum": 1.104, "type": "quantitative"}, "y": {"datum": -39000, "type": "quantitative"}}},
   {"data": {"values": [{}]}, "mark": {"type": "rule", "color": "#000000", "strokeWidth": 1.5}, "encoding": {"x": {"datum": 0, "type": "quantitative"}}},
   {"data": {"values": [{}]}, "mark": {"type": "rule", "color": "#f0705a", "strokeWidth": 1.5, "strokeDash": [3, 3]}, "encoding": {"x": {"datum": 1.129, "type": "quantitative"}}}
  ]},
 {"width": 1088, "height": 133,
  "layer": [
   {"data": {"values": [{}]}, "mark": {"type": "rule", "color": "#4d4d4d", "strokeWidth": 1.5}, "encoding": {"y": {"datum": 0, "type": "quantitative"}}},
   {"data": {"name": "vC"}, "mark": {"type": "line", "interpolate": "monotone", "clip": true, "color": "#0f9d7a", "strokeWidth": 1.3},
    "encoding": {"x": {"field": "t", "type": "quantitative", "scale": {"domain": [-0.28, 1.133], "nice": false, "zero": false}, "axis": {"values": [-0.2,-0.1,0,0.1,0.2,0.3,0.4,0.5,0.6,0.7,0.8,0.9,1,1.1], "grid": true, "labels": false, "ticks": false, "domain": false, "title": null}},
     "y": {"field": "v", "type": "quantitative", "scale": {"domain": [-75000, 73000], "nice": false, "zero": false}, "axis": {"title": "vC/ V", "values": [50000,25000,0,-25000,-50000,-75000]}}}},
   {"data": {"name": "ylabV"}, "mark": {"type": "text", "fontSize": 13, "fontWeight": "bold", "font": "Liberation Sans", "color": "#111111", "align": "right", "baseline": "middle", "dx": -25}, "encoding": {"x": {"datum": -0.28, "type": "quantitative"}, "y": {"field": "v", "type": "quantitative"}, "text": {"field": "lab"}}},
   {"data": {"name": "ticks"}, "mark": {"type": "tick", "orient": "vertical", "size": 15, "thickness": 1.5, "color": "#222222"}, "encoding": {"x": {"field": "t", "type": "quantitative"}, "y": {"datum": 0, "type": "quantitative"}}},
   {"data": {"name": "ticks"}, "mark": {"type": "text", "fontSize": 13, "font": "Liberation Sans", "color": "#222222", "align": "center", "baseline": "middle"}, "encoding": {"x": {"field": "t", "type": "quantitative"}, "y": {"datum": -27500, "type": "quantitative"}, "text": {"field": "lab"}}},
   {"data": {"values": [{}]}, "mark": {"type": "text", "fontSize": 16, "font": "Liberation Sans", "color": "#111111", "align": "center", "baseline": "middle", "text": "t/s"}, "encoding": {"x": {"datum": 1.104, "type": "quantitative"}, "y": {"datum": -39000, "type": "quantitative"}}},
   {"data": {"values": [{}]}, "mark": {"type": "rule", "color": "#000000", "strokeWidth": 1.5}, "encoding": {"x": {"datum": 0, "type": "quantitative"}}},
   {"data": {"values": [{}]}, "mark": {"type": "rule", "color": "#f0705a", "strokeWidth": 1.5, "strokeDash": [3, 3]}, "encoding": {"x": {"datum": 1.129, "type": "quantitative"}}}
  ]}
]
}
